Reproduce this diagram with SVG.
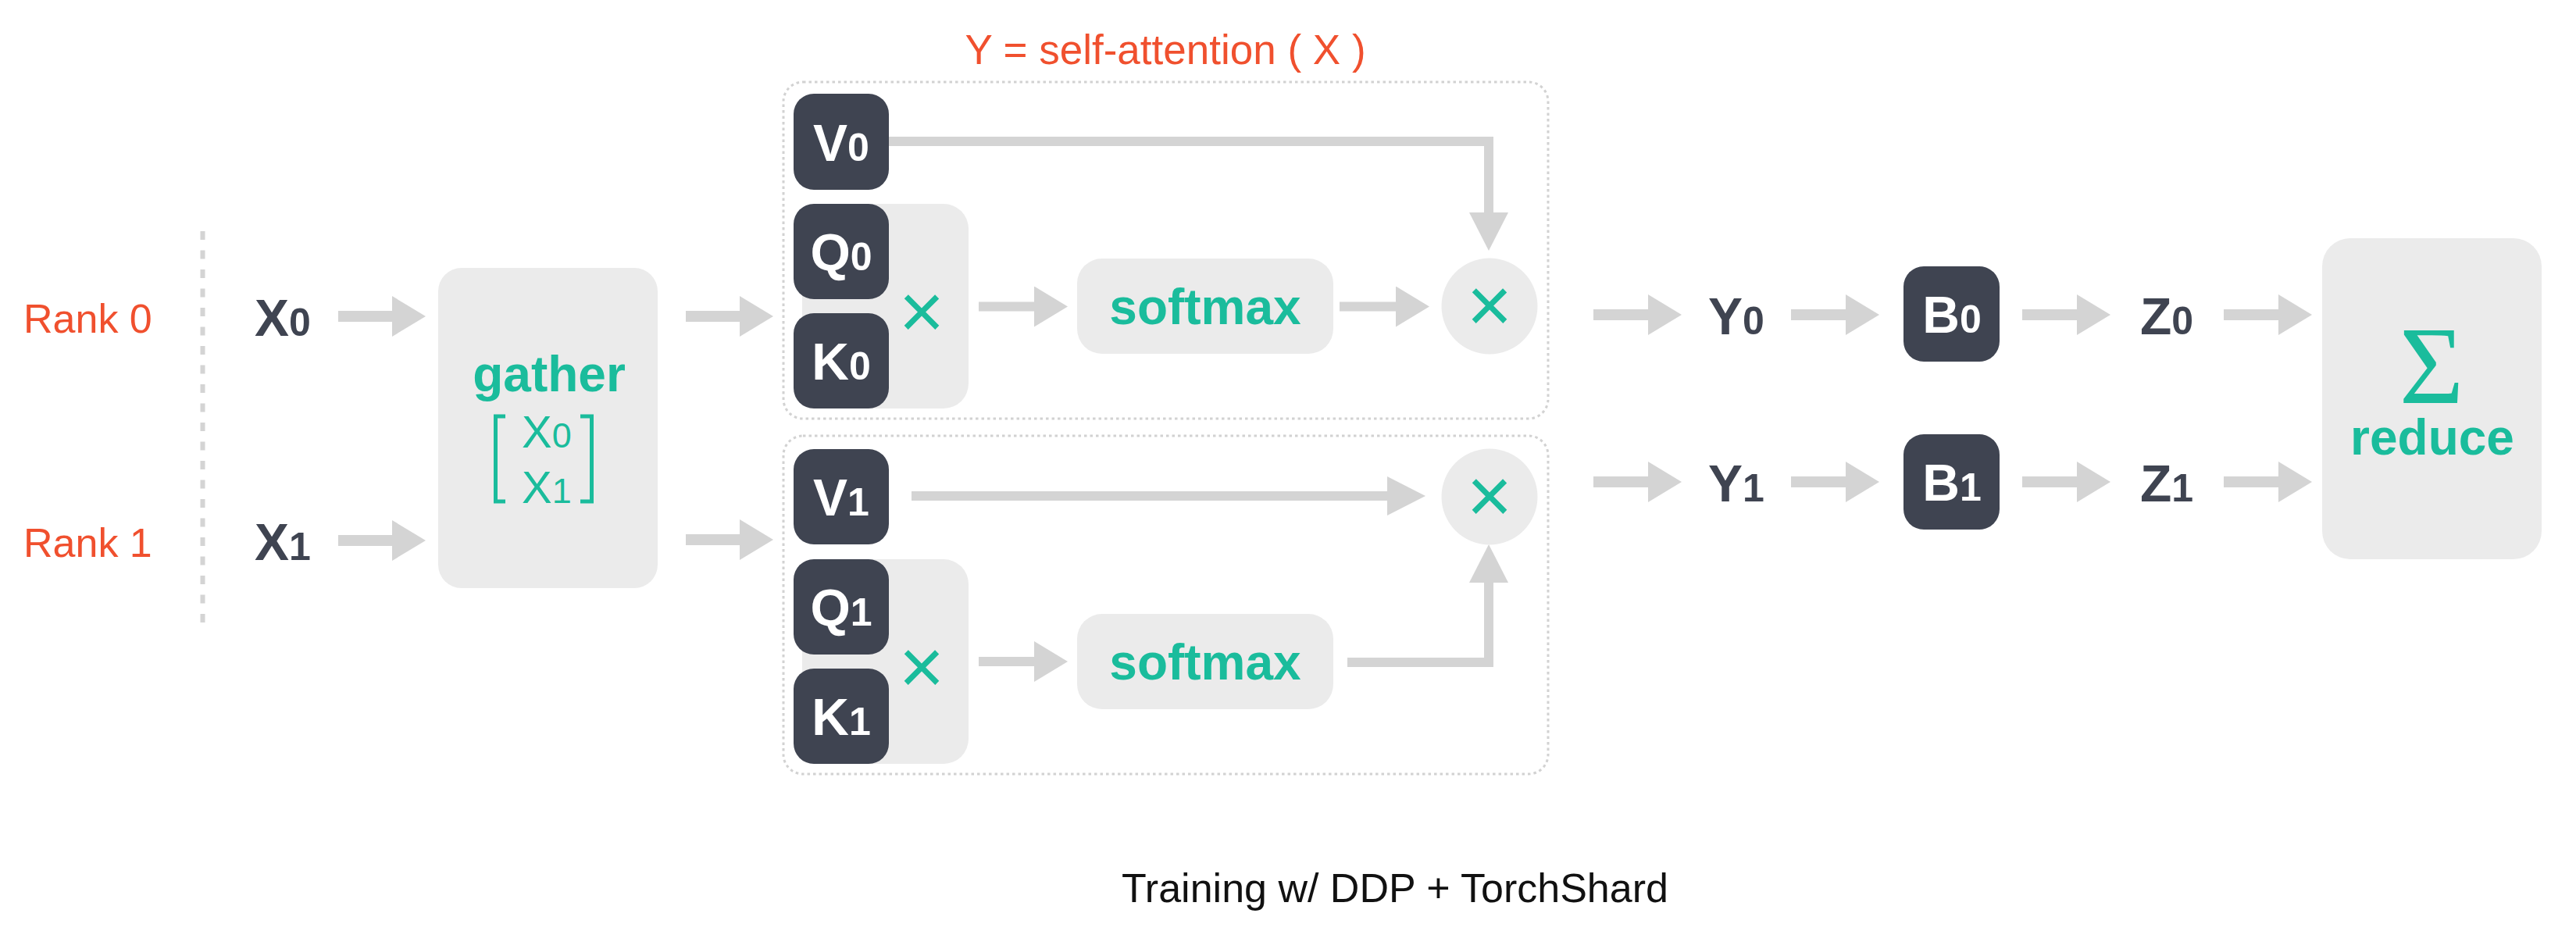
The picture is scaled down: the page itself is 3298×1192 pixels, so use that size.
<svg xmlns="http://www.w3.org/2000/svg" width="3298" height="1192" viewBox="0 0 3298 1192">
<defs>
<style>
text{font-family:"Liberation Sans",Arial,Helvetica,sans-serif}
.arr{stroke:#d4d4d4;stroke-width:14;fill:none}
.arrv{stroke:#d4d4d4;stroke-width:12;fill:none}
.dark{fill:#3f4451}
.light{fill:#ebebeb}
.dotbox{fill:none;stroke:#d2d2d2;stroke-width:3;stroke-dasharray:3.5 4}
.red{fill:#f0502e;font-size:52px}
.title{fill:#f0502e;font-size:53px}
.wl{fill:#ffffff;font-size:66px;font-weight:bold}
.dl{fill:#3f4451;font-size:66px;font-weight:bold}
.sub{font-size:50px}
.gl{fill:#1abc9c;font-size:64px;font-weight:bold}
.gx{fill:#1abc9c;font-size:58px}
.gsub{font-size:45px}
.mul{fill:#1abc9c;font-size:100px}
.cap{fill:#111111;font-size:52px}
</style>
<marker id="ah" viewBox="0 0 43 52" refX="0" refY="26" markerWidth="43" markerHeight="52" markerUnits="userSpaceOnUse" orient="auto">
<path d="M0,0 L43,26 L0,52 Z" fill="#d4d4d4"/>
</marker>
<marker id="ahl" viewBox="0 0 49 50" refX="0" refY="25" markerWidth="49" markerHeight="50" markerUnits="userSpaceOnUse" orient="auto">
<path d="M0,0 L49,25 L0,50 Z" fill="#d4d4d4"/>
</marker>
</defs>
<rect x="0" y="0" width="3298" height="1192" fill="#ffffff"/>

<g id="title"><text class="title" x="1492" y="82" text-anchor="middle">Y = self-attention ( X )</text></g>

<g id="ranks">
<text class="red" x="30" y="426">Rank 0</text>
<text class="red" x="30" y="713">Rank 1</text>
<line x1="259.5" y1="296" x2="259.5" y2="807" stroke="#d4d4d4" stroke-width="6" stroke-dasharray="11 13.5"/>
</g>

<g id="attn-box-0"><rect class="dotbox" x="1003" y="105" width="979" height="431" rx="25"/></g>
<g id="attn-box-1"><rect class="dotbox" x="1003" y="558" width="979" height="433" rx="25"/></g>

<g id="connectors">
<line class="arr" x1="433" y1="405" x2="502" y2="405" marker-end="url(#ah)"/>
<line class="arr" x1="433" y1="692" x2="502" y2="692" marker-end="url(#ah)"/>
<line class="arr" x1="878" y1="405" x2="947" y2="405" marker-end="url(#ah)"/>
<line class="arr" x1="878" y1="691" x2="947" y2="691" marker-end="url(#ah)"/>
<path class="arrv" d="M1138,181 H1906 V272" marker-end="url(#ahl)"/>
<line class="arrv" x1="1253" y1="392.5" x2="1324" y2="392.5" marker-end="url(#ah)"/>
<line class="arrv" x1="1715" y1="392.5" x2="1787" y2="392.5" marker-end="url(#ah)"/>
<line class="arrv" x1="1167" y1="635" x2="1776" y2="635" marker-end="url(#ahl)"/>
<line class="arrv" x1="1253" y1="847" x2="1324" y2="847" marker-end="url(#ah)"/>
<path class="arrv" d="M1725,848 H1906 V746" marker-end="url(#ahl)"/>
<line class="arr" x1="2040" y1="403" x2="2110" y2="403" marker-end="url(#ah)"/>
<line class="arr" x1="2293" y1="403" x2="2363" y2="403" marker-end="url(#ah)"/>
<line class="arr" x1="2589" y1="403" x2="2659" y2="403" marker-end="url(#ah)"/>
<line class="arr" x1="2847" y1="403" x2="2917" y2="403" marker-end="url(#ah)"/>
<line class="arr" x1="2040" y1="617" x2="2110" y2="617" marker-end="url(#ah)"/>
<line class="arr" x1="2293" y1="617" x2="2363" y2="617" marker-end="url(#ah)"/>
<line class="arr" x1="2589" y1="617" x2="2659" y2="617" marker-end="url(#ah)"/>
<line class="arr" x1="2847" y1="617" x2="2917" y2="617" marker-end="url(#ah)"/>
</g>

<g id="x0"><text class="dl" x="326" y="430">X<tspan class="sub">0</tspan></text></g>
<g id="x1"><text class="dl" x="326" y="717">X<tspan class="sub">1</tspan></text></g>

<g id="gather">
<rect class="light" x="561" y="343" width="281" height="410" rx="30"/>
<text class="gl" x="703" y="501" text-anchor="middle">gather</text>
<path d="M647,533 H634.5 V642 H647 M743,533 H757.5 V642 H743" fill="none" stroke="#1abc9c" stroke-width="5"/>
<text class="gx" x="668" y="573">X<tspan class="gsub">0</tspan></text>
<text class="gx" x="668" y="644">X<tspan class="gsub">1</tspan></text>
</g>

<g id="qk0">
<rect class="light" x="1027" y="261" width="213" height="262" rx="32"/>
<text class="mul" x="1180" y="433" text-anchor="middle">×</text>
</g>
<g id="v0"><rect class="dark" x="1016" y="120" width="122" height="123" rx="26"/><text class="wl" x="1077" y="206" text-anchor="middle">V<tspan class="sub">0</tspan></text></g>
<g id="q0"><rect class="dark" x="1016" y="261" width="122" height="122" rx="26"/><text class="wl" x="1077" y="346" text-anchor="middle">Q<tspan class="sub">0</tspan></text></g>
<g id="k0"><rect class="dark" x="1016" y="401" width="122" height="122" rx="26"/><text class="wl" x="1077" y="486" text-anchor="middle">K<tspan class="sub">0</tspan></text></g>
<g id="softmax0"><rect class="light" x="1379" y="331" width="328" height="122" rx="32"/><text class="gl" x="1543" y="415" text-anchor="middle">softmax</text></g>
<g id="mul0"><circle class="light" cx="1907" cy="392" r="61.5"/><text class="mul" x="1907" y="425" text-anchor="middle">×</text></g>

<g id="qk1">
<rect class="light" x="1027" y="716" width="213" height="262" rx="32"/>
<text class="mul" x="1180" y="888" text-anchor="middle">×</text>
</g>
<g id="v1"><rect class="dark" x="1016" y="575" width="122" height="122" rx="26"/><text class="wl" x="1077" y="660" text-anchor="middle">V<tspan class="sub">1</tspan></text></g>
<g id="q1"><rect class="dark" x="1016" y="716" width="122" height="122" rx="26"/><text class="wl" x="1077" y="801" text-anchor="middle">Q<tspan class="sub">1</tspan></text></g>
<g id="k1"><rect class="dark" x="1016" y="856" width="122" height="122" rx="26"/><text class="wl" x="1077" y="941" text-anchor="middle">K<tspan class="sub">1</tspan></text></g>
<g id="softmax1"><rect class="light" x="1379" y="786" width="328" height="122" rx="32"/><text class="gl" x="1543" y="870" text-anchor="middle">softmax</text></g>
<g id="mul1"><circle class="light" cx="1907" cy="636" r="61.5"/><text class="mul" x="1907" y="669" text-anchor="middle">×</text></g>

<g id="y0"><text class="dl" x="2187" y="428">Y<tspan class="sub">0</tspan></text></g>
<g id="y1"><text class="dl" x="2187" y="642">Y<tspan class="sub">1</tspan></text></g>
<g id="b0"><rect class="dark" x="2437" y="341" width="123" height="122" rx="26"/><text class="wl" x="2499" y="426" text-anchor="middle">B<tspan class="sub">0</tspan></text></g>
<g id="b1"><rect class="dark" x="2437" y="556" width="123" height="122" rx="26"/><text class="wl" x="2499" y="641" text-anchor="middle">B<tspan class="sub">1</tspan></text></g>
<g id="z0"><text class="dl" x="2740" y="428">Z<tspan class="sub">0</tspan></text></g>
<g id="z1"><text class="dl" x="2740" y="642">Z<tspan class="sub">1</tspan></text></g>

<g id="reduce">
<rect class="light" x="2973" y="305" width="281" height="411" rx="36"/>
<text x="3113" y="516" text-anchor="middle" fill="#1abc9c" font-size="142" style="font-family:'Liberation Serif','Times New Roman',serif">Σ</text>
<text class="gl" x="3114" y="582" text-anchor="middle">reduce</text>
</g>

<g id="caption"><text class="cap" x="1786" y="1155" text-anchor="middle">Training w/ DDP + TorchShard</text></g>
</svg>
